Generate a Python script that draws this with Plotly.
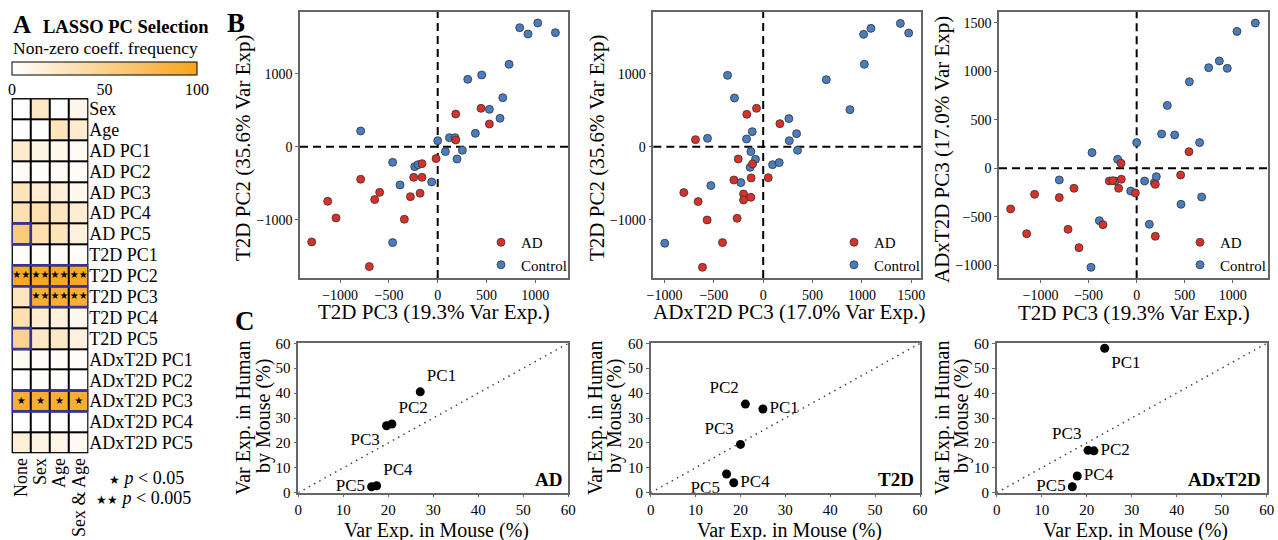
import plotly.graph_objects as go

W, H = 1278, 540
FONT = "Liberation Serif"

# ---------------- Panel A data ----------------
rows = ["Sex", "Age", "AD PC1", "AD PC2", "AD PC3", "AD PC4", "AD PC5",
        "T2D PC1", "T2D PC2", "T2D PC3", "T2D PC4", "T2D PC5",
        "ADxT2D PC1", "ADxT2D PC2", "ADxT2D PC3", "ADxT2D PC4", "ADxT2D PC5"]
cols = ["None", "Sex", "Age", "Sex & Age"]
freq = [
    [0, 25, 0, 10],
    [0, 0, 30, 22],
    [22, 12, 8, 5],
    [3, 2, 5, 3],
    [30, 20, 18, 8],
    [35, 35, 28, 20],
    [58, 35, 30, 15],
    [2, 2, 2, 2],
    [95, 95, 95, 95],
    [28, 88, 88, 88],
    [35, 20, 15, 8],
    [50, 25, 25, 15],
    [6, 4, 4, 2],
    [0, 2, 2, 0],
    [90, 90, 90, 90],
    [0, 0, 0, 0],
    [18, 12, 10, 6],
]
sig = [
    [0, 0, 0, 0], [0, 0, 0, 0], [0, 0, 0, 0], [0, 0, 0, 0], [0, 0, 0, 0],
    [0, 0, 0, 0], [0, 0, 0, 0], [0, 0, 0, 0],
    [2, 2, 2, 2],
    [0, 2, 2, 2],
    [0, 0, 0, 0], [0, 0, 0, 0], [0, 0, 0, 0], [0, 0, 0, 0],
    [1, 1, 1, 1],
    [0, 0, 0, 0], [0, 0, 0, 0],
]
boxes = [("AD PC5", "None", "None"), ("T2D PC2", "None", "Sex & Age"),
         ("T2D PC3", "Sex", "Sex & Age"), ("T2D PC5", "None", "None"),
         ("ADxT2D PC3", "None", "Sex & Age")]

# ---------------- Panel B data ----------------
# B1: x = T2D PC3, y = T2D PC2
b1_ad_x = [-1292, -1128, -1043, -790, -701, -646, -595, -342, -280, -246, -181, -161, -161, -17, 185, 185, 444, 530]
b1_ad_y = [-1306, -749, -977, -447, -1644, -726, -626, -995, -685, -420, -639, -420, -233, -164, 447, 91, 525, 310]
b1_ct_x = [-790, -462, -386, -462, -236, -202, -62, 0, 79, 120, 178, 198, 253, 386, 308, 451, 530, 639, 667, 732, 841, 926, 1026, 1207]
b1_ct_y = [215, -215, -525, -1315, -274, -247, -484, 82, -68, 123, 123, -169, -50, 183, 922, 982, 511, 388, 671, 1128, 1630, 1543, 1694, 1562]
# B2: x = ADxT2D PC3, y = T2D PC2
b2_ad_x = [-686, -804, -659, -568, -615, -412, -264, -297, -253, -199, -199, -125, -122, -108, -166, -68, 51, 169]
b2_ad_y = [96, -630, -753, -1005, -1653, -1315, -982, -457, -169, -648, -731, -694, -429, -237, 443, 525, -425, 315]
b2_ct_x = [-997, -564, -530, -361, -291, -226, -169, -125, -132, -111, -78, 95, 162, 260, 264, 338, 348, 639, 878, 1017, 1024, 1091, 1389, 1473]
b2_ct_y = [-1324, 114, -534, 977, 667, -493, 105, -68, -283, 205, -174, -247, -219, 384, 82, 178, -50, 918, 507, 1539, 1128, 1621, 1689, 1557]
# B3: x = T2D PC3, y = ADxT2D PC3
b3_ad_x = [-1313, -1146, -1063, -806, -653, -715, -601, -351, -285, -250, -188, -163, -160, -14, 194, 194, 458, 545]
b3_ad_y = [-419, -674, -268, -302, -206, -629, -818, -581, -131, -127, -206, 52, -113, -254, -165, -701, -69, 172]
b3_ct_x = [-465, -806, -389, -476, -198, -226, -62, 0, 83, 132, 184, 205, 260, 396, 319, 462, 549, 656, 677, 750, 861, 944, 1045, 1236]
b3_ct_y = [162, -120, -540, -1021, 93, -131, -234, 265, -131, -577, -148, -86, 354, 344, 649, -371, 893, 265, -296, 1038, 1107, 1031, 1412, 1498]

# ---------------- Panel C data ----------------
pcs = ["PC1", "PC2", "PC3", "PC4", "PC5"]
c_ad_mouse = [27.1, 20.8, 19.6, 17.4, 16.3]
c_ad_human = [40.5, 27.6, 26.9, 2.8, 2.4]
c_t2d_mouse = [25.0, 21.1, 20.0, 18.5, 16.9]
c_t2d_human = [33.6, 35.6, 19.4, 4.0, 7.5]
c_adx_mouse = [24.0, 21.6, 20.3, 17.9, 16.8]
c_adx_human = [58.0, 16.8, 17.0, 6.7, 2.4]
c_ad_pos = ["top right", "top right", "bottom left", "top right", "middle left"]
c_t2d_pos = ["middle right", "top left", "top left", "middle right", "bottom left"]
c_adx_pos = ["bottom right", "middle right", "top left", "middle right", "middle left"]
identity = [0, 60]

RED = "#D9302A"
BLUE = "#4A7CC0"
ORANGE = "rgb(248,164,28)"
NAVY = "#34349C"


def xd(a, b):
    return [a / W, b / W]


def yd(top, bottom):
    return [1 - bottom / H, 1 - top / H]


fig = go.Figure()

# ---- heatmap ----
fig.add_trace(go.Heatmap(
    z=freq, x=cols, y=rows, zmin=0, zmax=100,
    colorscale=[[0, "#FFFFFF"], [1, ORANGE]],
    xgap=2, ygap=2, xaxis="x", yaxis="y", hoverinfo="skip",
    colorbar=dict(orientation="h", x=104.5 / W, xanchor="center", y=1 - 62 / H, yanchor="top",
                  len=185, lenmode="pixels", thickness=13, thicknessmode="pixels",
                  outlinewidth=1, outlinecolor="black", tickvals=[0, 50, 100], ticks="",
                  tickfont=dict(family=FONT, size=16, color="black"), xpad=0, ypad=0),
))
sx, sy, st = [], [], []
for i, r in enumerate(rows):
    for j, c in enumerate(cols):
        if sig[i][j] > 0:
            sx.append(c)
            sy.append(r)
            st.append("★" * sig[i][j])
fig.add_trace(go.Scatter(x=sx, y=sy, text=st, mode="text", xaxis="x", yaxis="y",
                         textfont=dict(size=10, color="black", family="DejaVu Sans"),
                         showlegend=False, hoverinfo="skip"))

shapes = []
shapes.append(dict(type="rect", xref="x", yref="y", x0=-0.5, x1=len(cols) - 0.5,
                   y0=-0.5, y1=len(rows) - 0.5, fillcolor="black", line=dict(width=0), layer="below"))
shapes.append(dict(type="rect", xref="x", yref="y", x0=-0.5, x1=len(cols) - 0.5,
                   y0=-0.5, y1=len(rows) - 0.5, line=dict(color="black", width=2)))
for r, c0, c1 in boxes:
    ri = rows.index(r)
    shapes.append(dict(type="rect", xref="x", yref="y",
                       x0=cols.index(c0) - 0.5, x1=cols.index(c1) + 0.5,
                       y0=ri - 0.5, y1=ri + 0.5, line=dict(color=NAVY, width=2.5)))

# ---- B scatter panels ----
bpanels = [
    ("x2", "y2", b1_ad_x, b1_ad_y, b1_ct_x, b1_ct_y, "legend"),
    ("x3", "y3", b2_ad_x, b2_ad_y, b2_ct_x, b2_ct_y, "legend2"),
    ("x4", "y4", b3_ad_x, b3_ad_y, b3_ct_x, b3_ct_y, "legend3"),
]
for xa, ya, adx, ady, ctx, cty, lg in bpanels:
    fig.add_trace(go.Scatter(x=ctx, y=cty, mode="markers", name="Control", xaxis=xa, yaxis=ya,
                             legend=lg, legendrank=2,
                             marker=dict(size=8, color=BLUE, line=dict(width=0.8, color="#333"))))
    fig.add_trace(go.Scatter(x=adx, y=ady, mode="markers", name="AD", xaxis=xa, yaxis=ya,
                             legend=lg, legendrank=1,
                             marker=dict(size=8, color=RED, line=dict(width=0.8, color="#333"))))
    shapes.append(dict(type="line", xref=xa, yref=ya + " domain", x0=0, x1=0, y0=0, y1=1,
                       line=dict(color="black", width=2, dash="8px,5px"), layer="below"))
    shapes.append(dict(type="line", xref=xa + " domain", yref=ya, x0=0, x1=1, y0=0, y1=0,
                       line=dict(color="black", width=2, dash="8px,5px"), layer="below"))

# ---- C panels ----
cpanels = [
    ("x5", "y5", c_ad_mouse, c_ad_human, c_ad_pos, "AD"),
    ("x6", "y6", c_t2d_mouse, c_t2d_human, c_t2d_pos, "T2D"),
    ("x7", "y7", c_adx_mouse, c_adx_human, c_adx_pos, "ADxT2D"),
]
for xa, ya, mx, hy, pos, lab in cpanels:
    fig.add_trace(go.Scatter(x=identity, y=identity, mode="lines", xaxis=xa, yaxis=ya,
                             line=dict(color="#444", width=1.5, dash="1.5px,4.5px"),
                             showlegend=False, hoverinfo="skip"))
    fig.add_trace(go.Scatter(x=mx, y=hy, mode="markers+text", text=pcs, textposition=pos,
                             xaxis=xa, yaxis=ya, showlegend=False,
                             marker=dict(size=9, color="black"),
                             textfont=dict(family=FONT, size=17, color="black")))


def faxis(domain, rng, dtick, anchor, size=14):
    return dict(domain=domain, range=rng, dtick=dtick, tick0=0, anchor=anchor,
                showline=True, mirror=True, linecolor="#666", linewidth=1.5,
                ticks="outside", ticklen=3, tickcolor="#666", tickwidth=1.2,
                showgrid=False, zeroline=False,
                tickfont=dict(family=FONT, size=size, color="black"))


layout = dict(
    width=W, height=H, margin=dict(l=0, r=0, t=0, b=0, autoexpand=False),
    paper_bgcolor="white", plot_bgcolor="white",
    font=dict(family=FONT, color="black"),
    xaxis=dict(domain=xd(11.7, 88.3), range=[-0.5, 3.5], anchor="y", tickangle=-90,
               tickmode="array", tickvals=cols, ticktext=cols,
               ticks="", showgrid=False, zeroline=False, showline=False,
               tickfont=dict(family=FONT, size=18, color="black")),
    yaxis=dict(domain=yd(98.3, 453.3), range=[16.5, -0.5], anchor="x", side="right",
               tickmode="array", tickvals=rows, ticktext=rows,
               ticks="", showgrid=False, zeroline=False, showline=False,
               tickfont=dict(family=FONT, size=18, color="black")),
    xaxis2=faxis(xd(300, 568), [-1412, 1336], 500, "y2"),
    yaxis2=faxis(yd(12, 278), [-1800, 1845], 1000, "x2"),
    xaxis3=faxis(xd(653.3, 921), [-1113, 1598], 500, "y3"),
    yaxis3=faxis(yd(12, 278), [-1800, 1845], 1000, "x3"),
    xaxis4=faxis(xd(999, 1267.7), [-1434, 1365], 500, "y4"),
    yaxis4=faxis(yd(11.7, 278.3), [-1134, 1615], 500, "x4"),
    xaxis5=faxis(xd(298.3, 568.3), [0, 60], 10, "y5", 15),
    yaxis5=faxis(yd(343.3, 492.7), [0, 60], 10, "x5", 15),
    xaxis6=faxis(xd(650.7, 920), [0, 60], 10, "y6", 15),
    yaxis6=faxis(yd(343.3, 492.7), [0, 60], 10, "x6", 15),
    xaxis7=faxis(xd(996.7, 1266.7), [0, 60], 10, "y7", 15),
    yaxis7=faxis(yd(343.3, 492.7), [0, 60], 10, "x7", 15),
    shapes=shapes,
)
for key, xr in (("legend", 572), ("legend2", 925), ("legend3", 1271)):
    layout[key] = dict(x=xr / W, xanchor="right", y=1 - 281 / H, yanchor="bottom",
                       bgcolor="rgba(0,0,0,0)", font=dict(family=FONT, size=15, color="black"),
                       tracegroupgap=0, itemwidth=30)

ann = []


def txt(text, x, y, size, xanchor="center", angle=0):
    ann.append(dict(text=text, xref="paper", yref="paper", x=x / W, y=1 - y / H,
                    xanchor=xanchor, yanchor="middle", showarrow=False, textangle=angle,
                    font=dict(family=FONT, size=size, color="black")))


txt("<b>A</b>", 11, 25, 25, "left")
txt("<b>LASSO PC Selection</b>", 41, 27, 18.5, "left")
txt("Non-zero coeff. frequency", 11, 48, 17.5, "left")
txt("<span style='font-size:12px'>★</span> <i>p</i> < 0.05", 146, 478, 18)
txt("<span style='font-size:12px'>★★</span> <i>p</i> < 0.005", 143, 498, 18)
txt("<b>B</b>", 236, 23, 27)
txt("<b>C</b>", 245, 321, 27)

txt("T2D PC3 (19.3% Var Exp.)", 434, 312, 21)
txt("ADxT2D PC3 (17.0% Var Exp.)", 789, 312, 21)
txt("T2D PC3 (19.3% Var Exp.)", 1134, 313, 21)
txt("T2D PC2 (35.6% Var Exp)", 243, 148, 21, angle=-90)
txt("T2D PC2 (35.6% Var Exp)", 597, 148, 21, angle=-90)
txt("ADxT2D PC3 (17.0% Var Exp)", 942, 150, 21, angle=-90)

for cx, l1, l2 in ((436.7, 243, 263), (789, 595, 614), (1135, 942, 961)):
    txt("Var Exp. in Mouse (%)", cx, 530, 20)
    txt("Var Exp. in Human", l1, 418, 20, angle=-90)
    txt("by Mouse (%)", l2, 416, 20, angle=-90)

for xa, ya, mx, hy, pos, lab in cpanels:
    ann.append(dict(text="<b>" + lab + "</b>", xref=xa + " domain", yref=ya + " domain",
                    x=1, y=0, xanchor="right", yanchor="bottom", xshift=-4, yshift=1,
                    showarrow=False, font=dict(family=FONT, size=19, color="black")))

layout["annotations"] = ann
fig.update_layout(layout)
fig.write_html("out.html", config={"displayModeBar": False},
               post_script="document.body.style.margin='0';document.body.style.overflow='hidden';")
